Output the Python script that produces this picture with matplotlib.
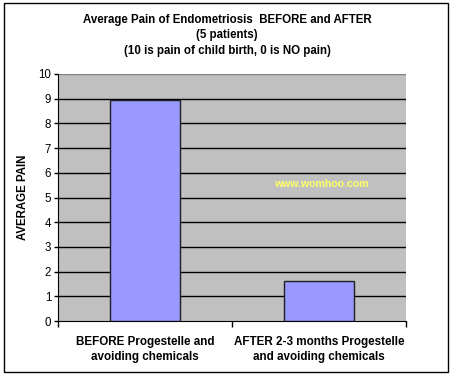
import matplotlib
matplotlib.use("Agg")
import matplotlib.pyplot as plt
from matplotlib.patches import Rectangle

plt.rcParams['font.family'] = ['Liberation Sans', 'DejaVu Sans']

categories = ["BEFORE Progestelle and\navoiding chemicals",
              "AFTER 2-3 months Progestelle\nand avoiding chemicals"]
values = [8.95, 1.6]
yticks = list(range(0, 11))
title = ("Average Pain of Endometriosis  BEFORE and AFTER\n(5 patients)\n"
         "(10 is pain of child birth, 0 is NO pain)")

W, H = 453, 377
fig = plt.figure(figsize=(W / 100, H / 100), dpi=100)
fig.patch.set_facecolor("white")

# outer border
fig.add_artist(Rectangle((4 / W, 1 - 372 / H), (448 - 4) / W, (372 - 3) / H,
                         transform=fig.transFigure, fill=False,
                         edgecolor="black", linewidth=1))

left, right, top, bottom = 58, 406, 74, 321
ax = fig.add_axes([left / W, 1 - bottom / H, (right - left) / W, (bottom - top) / H])
ax.set_facecolor("#C0C0C0")

x = list(range(len(categories)))
ax.bar(x, values, width=0.4, color="#9999FF", edgecolor="#202020", linewidth=1, zorder=3)

ax.set_xlim(-0.5, len(categories) - 0.5)
ax.set_ylim(0, 10)
ax.set_yticks(yticks)
ax.set_yticklabels([str(t) for t in yticks], fontsize=8.3)
for t in yticks[1:-1]:
    ax.axhline(t, color="black", linewidth=1, zorder=1)
ax.axhline(10, color="#808080", linewidth=1, zorder=1)

ax.set_xticks([-0.5, 0.5, 1.5])
ax.set_xticklabels([])
ax.tick_params(axis="x", direction="out", length=4, width=1)
ax.tick_params(axis="y", direction="out", length=3, width=1, pad=2)
for i, c in enumerate(categories):
    ax.text(i, -0.6, c, ha="center", va="top", fontsize=8.4, fontweight="bold",
            linespacing=1.35, transform=ax.transData)

ax.spines["top"].set_visible(False)
ax.spines["right"].set_visible(False)
ax.spines["left"].set_color("black")
ax.spines["bottom"].set_color("black")

ax.set_ylabel("AVERAGE PAIN", fontsize=8.3, fontweight="bold")
ax.yaxis.set_label_coords(-(58 - 29) / (right - left), 0.5)

fig.text(227 / W, 1 - 14 / H, title, ha="center", va="top", fontsize=8.3,
         fontweight="bold", linespacing=1.38)

fig.text(321 / W, 1 - 184 / H, "www.womhoo.com", ha="center", va="center",
         fontsize=7.6, fontweight="bold", color="#FFFF66")

fig.savefig("out.png", dpi=100)
